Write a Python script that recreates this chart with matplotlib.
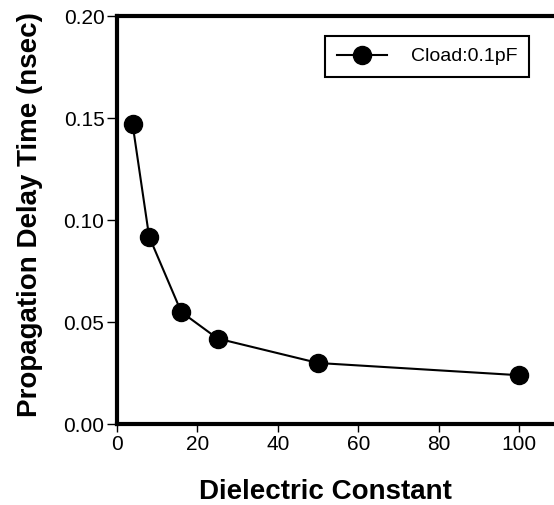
import matplotlib.pyplot as plt

plt.rcParams['font.family'] = ['Liberation Sans', 'DejaVu Sans']

# dielectric constant vs propagation delay, Cload = 0.1 pF
dielectric_constant = [3.9, 8, 16, 25, 50, 100]
delay_time = [0.147, 0.092, 0.055, 0.042, 0.030, 0.024]

x_ticks = [0, 20, 40, 60, 80, 100]
y_ticks = [0.00, 0.05, 0.10, 0.15, 0.20]

fig = plt.figure(figsize=(5.54, 5.05), dpi=100)
ax = fig.add_axes([0.211, 0.160, 0.789, 0.808])

ax.plot(dielectric_constant, delay_time, color='black', lw=1.5,
        marker='o', markersize=13, label='Cload:0.1pF')

ax.set_xlim(0, 108.6)
ax.set_ylim(0, 0.20)
ax.set_xticks(x_ticks)
ax.set_yticks(y_ticks)
ax.set_yticklabels(['{:.2f}'.format(v) for v in y_ticks])
ax.tick_params(direction='out', width=1, labelsize=15, pad=2)
ax.tick_params(axis='y', length=7)
ax.tick_params(axis='x', length=6)

for side in ['left', 'bottom', 'top']:
    ax.spines[side].set_linewidth(3)
ax.spines['right'].set_visible(False)

ax.set_xlabel('Dielectric Constant', fontsize=20, fontweight='bold')
ax.set_ylabel('Propagation Delay Time (nsec)', fontsize=20, fontweight='bold')
ax.xaxis.set_label_coords(0.478, -0.135)
ax.yaxis.set_label_coords(-0.168, 0.513)

leg = ax.legend(loc='upper right', bbox_to_anchor=(0.965, 0.975), fontsize=14,
                fancybox=False, edgecolor='black', framealpha=1,
                handlelength=2.6, borderpad=0.6, handletextpad=1.2)
leg.get_frame().set_linewidth(1.5)

fig.savefig('out.png', dpi=100)
